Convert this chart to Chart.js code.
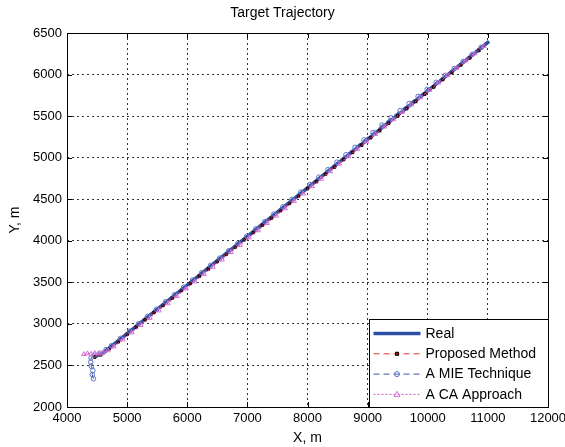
<!DOCTYPE html>
<html>
<head>
<meta charset="utf-8">
<script src="https://cdn.jsdelivr.net/npm/chart.js@4.4.0/dist/chart.umd.min.js"></script>
<style>
  body { margin: 0; background: #fff; }
  #wrap { width: 565px; height: 447px; }
</style>
</head>
<body>
<div id="wrap"><canvas id="myChart" width="565" height="447"></canvas></div>
<script>
// Data (metres)
const seriesNames = ['Real', 'Proposed Method', 'A MIE Technique', 'A CA Approach'];

const realX = [4430, 4500, 4600, 5000, 5500, 6000, 6500, 7000, 7500, 8000, 8500, 9000, 9500, 10000, 10500, 11020];
const realY = [2605, 2615, 2650, 2884, 3176, 3468, 3760, 4052, 4344, 4636, 4928, 5220, 5512, 5804, 6096, 6400];

const proposedX = [4460, 4560, 4700, 4850, 5000, 5150, 5300, 5450, 5600, 5750, 5900, 6050, 6200, 6350, 6500, 6650,
  6800, 6950, 7100, 7250, 7400, 7550, 7700, 7850, 8000, 8150, 8300, 8450, 8600, 8750, 8900, 9050, 9200, 9350, 9500,
  9650, 9800, 9950, 10100, 10250, 10400, 10550, 10700, 10850];
const proposedY = [2600, 2628, 2700, 2784, 2876, 2962, 3050, 3139, 3222, 3312, 3401, 3486, 3575, 3661, 3751, 3838,
  3924, 4013, 4099, 4189, 4274, 4364, 4450, 4537, 4628, 4712, 4802, 4887, 4977, 5063, 5150, 5240, 5325, 5414, 5501,
  5590, 5676, 5765, 5851, 5941, 6026, 6116, 6201, 6290];

const mieX = [4440, 4420, 4430, 4405, 4395, 4400, 4450, 4560, 4650, 4740, 4890, 5040, 5190, 5340, 5490, 5640, 5790,
  5940, 6090, 6240, 6390, 6540, 6690, 6840, 6990, 7140, 7290, 7440, 7590, 7740, 7890, 8040, 8190, 8340, 8490, 8640,
  8790, 8940, 9090, 9240, 9390, 9540, 9690, 9840, 9990, 10140, 10290, 10440, 10590, 10740, 10890];
const mieY = [2340, 2390, 2440, 2490, 2540, 2590, 2625, 2648, 2690, 2738, 2826, 2912, 3001, 3090, 3176, 3265, 3352,
  3441, 3528, 3615, 3704, 3791, 3880, 3967, 4055, 4143, 4231, 4320, 4408, 4497, 4586, 4676, 4765, 4855, 4945, 5035,
  5124, 5214, 5302, 5392, 5480, 5566, 5652, 5737, 5822, 5906, 5990, 6073, 6157, 6243, 6328];

const caX = [4280, 4340, 4400, 4460, 4520, 4600, 4680, 4780, 4930, 5080, 5230, 5380, 5530, 5680, 5830, 5980, 6130,
  6280, 6430, 6580, 6730, 6880, 7030, 7180, 7330, 7480, 7630, 7780, 7930, 8080, 8230, 8380, 8530, 8680, 8830, 8980,
  9130, 9280, 9430, 9580, 9730, 9880, 10030, 10180, 10330, 10480, 10630, 10780, 10930];
const caY = [2635, 2645, 2638, 2650, 2644, 2652, 2680, 2725, 2810, 2896, 2984, 3070, 3160, 3246, 3333, 3423, 3509,
  3598, 3685, 3772, 3862, 3948, 4037, 4124, 4212, 4300, 4388, 4477, 4566, 4655, 4744, 4835, 4924, 5015, 5104, 5193,
  5283, 5372, 5461, 5550, 5637, 5726, 5813, 5902, 5990, 6078, 6166, 6253, 6341];

const xTicks = [4000, 5000, 6000, 7000, 8000, 9000, 10000, 11000, 12000];
const yTicks = [2000, 2500, 3000, 3500, 4000, 4500, 5000, 5500, 6000, 6500];

const toPoints = (xs, ys) => xs.map((x, i) => ({x: x, y: ys[i]}));
const FONT = "'Liberation Sans', Arial, sans-serif";

// draws the axes box, inward ticks and the legend (MATLAB style)
const matlabAxes = {
    id: 'matlabAxes',
    afterDraw(chart) {
        const ctx = chart.ctx;
        const a = chart.chartArea;
        const xs = chart.scales.x, ys = chart.scales.y;
        ctx.save();
        ctx.strokeStyle = '#000';
        ctx.lineWidth = 1;
        ctx.setLineDash([]);
        // ticks
        ctx.beginPath();
        xTicks.forEach(v => {
            const px = Math.round(xs.getPixelForValue(v)) + 0.5;
            ctx.moveTo(px, a.bottom); ctx.lineTo(px, a.bottom - 5);
            ctx.moveTo(px, a.top); ctx.lineTo(px, a.top + 5);
        });
        yTicks.forEach(v => {
            const py = Math.round(ys.getPixelForValue(v)) + 0.5;
            ctx.moveTo(a.left, py); ctx.lineTo(a.left + 5, py);
            ctx.moveTo(a.right, py); ctx.lineTo(a.right - 5, py);
        });
        ctx.stroke();
        ctx.strokeRect(Math.round(a.left) + 0.5, Math.round(a.top) + 0.5,
            Math.round(a.right - a.left), Math.round(a.bottom - a.top));

        // legend
        const lw = 179, lh = 88;
        const lx = Math.round(a.right) - lw + 0.5, ly = Math.round(a.bottom) - lh + 0.5;
        ctx.fillStyle = '#fff';
        ctx.fillRect(lx, ly, lw, lh);
        ctx.strokeRect(lx, ly, lw, lh);
        ctx.font = '14px ' + FONT;
        ctx.textBaseline = 'middle';
        chart.data.datasets.forEach((ds, i) => {
            const y = ly + 14 + i * 20.3;
            const x0 = lx + 4, x1 = lx + 51;
            ctx.save();
            ctx.strokeStyle = ds.borderColor;
            ctx.lineWidth = ds.borderWidth;
            ctx.setLineDash(ds.borderDash || []);
            ctx.beginPath();
            ctx.moveTo(x0, y); ctx.lineTo(x1, y);
            ctx.stroke();
            ctx.setLineDash([]);
            const cx = (x0 + x1) / 2;
            if (ds.pointStyle === 'rect') {
                ctx.fillStyle = ds.pointBackgroundColor;
                ctx.strokeStyle = ds.pointBorderColor;
                ctx.lineWidth = 1;
                ctx.fillRect(cx - 1.5, y - 1.5, 3, 3);
                ctx.strokeRect(cx - 1.5, y - 1.5, 3, 3);
            } else if (ds.pointStyle === 'circle') {
                ctx.strokeStyle = ds.pointBorderColor;
                ctx.lineWidth = 1;
                ctx.beginPath();
                ctx.arc(cx, y, 2.5, 0, Math.PI * 2);
                ctx.stroke();
            } else if (ds.pointStyle === 'triangle') {
                ctx.strokeStyle = ds.pointBorderColor;
                ctx.lineWidth = 1;
                ctx.beginPath();
                ctx.moveTo(cx, y - 3); ctx.lineTo(cx + 3, y + 2); ctx.lineTo(cx - 3, y + 2);
                ctx.closePath();
                ctx.stroke();
            }
            ctx.restore();
            ctx.fillStyle = '#000';
            ctx.fillText(seriesNames[i], lx + 56, y + 0.5);
        });
        ctx.restore();
    }
};

const ctx = document.getElementById('myChart').getContext('2d');
const myChart = new Chart(ctx, {
    type: 'scatter',
    data: {
        datasets: [{
            label: seriesNames[0],
            data: toPoints(realX, realY),
            showLine: true,
            borderColor: '#2c4fa6',
            borderWidth: 3.5,
            pointRadius: 0,
            order: 4
        }, {
            label: seriesNames[1],
            data: toPoints(proposedX, proposedY),
            showLine: true,
            borderColor: '#e23a3a',
            borderWidth: 1,
            borderDash: [6, 4],
            pointStyle: 'rect',
            pointRadius: 1.8,
            pointBackgroundColor: '#a01010',
            pointBorderColor: '#1a0000',
            pointBorderWidth: 1,
            order: 3
        }, {
            label: seriesNames[2],
            data: toPoints(mieX, mieY),
            showLine: true,
            borderColor: '#3a56a8',
            borderWidth: 1,
            borderDash: [6, 4],
            pointStyle: 'circle',
            pointRadius: 2.3,
            pointBackgroundColor: 'rgba(0,0,0,0)',
            pointBorderColor: '#5c74c4',
            pointBorderWidth: 1,
            order: 2
        }, {
            label: seriesNames[3],
            data: toPoints(caX, caY),
            showLine: true,
            borderColor: '#d452c8',
            borderWidth: 1,
            borderDash: [2, 2],
            pointStyle: 'triangle',
            pointRadius: 2.6,
            pointBackgroundColor: 'rgba(0,0,0,0)',
            pointBorderColor: '#d870d4',
            pointBorderWidth: 1,
            order: 1
        }]
    },
    options: {
        responsive: false,
        animation: false,
        devicePixelRatio: 1,
        layout: { padding: 0 },
        plugins: {
            legend: { display: false },
            tooltip: { enabled: false },
            title: {
                display: true,
                text: 'Target Trajectory',
                color: '#000',
                font: { family: FONT, size: 14, weight: 'normal' },
                padding: { top: 5, bottom: 11.2 }
            }
        },
        scales: {
            x: {
                type: 'linear',
                min: 4000,
                max: 12000,
                afterBuildTicks: s => { s.ticks = xTicks.map(v => ({value: v})); },
                afterFit: s => { s.height = 40; s.paddingRight = 17; },
                ticks: {
                    color: '#000',
                    padding: 4,
                    maxRotation: 0,
                    font: { family: FONT, size: 13 },
                    callback: v => String(v)
                },
                grid: { color: '#333', lineWidth: 1, drawTicks: false },
                border: { display: false, dash: [2, 3] },
                title: {
                    display: true,
                    text: 'X, m',
                    color: '#000',
                    font: { family: FONT, size: 14 },
                    padding: { top: 0, bottom: 0 }
                }
            },
            y: {
                type: 'linear',
                min: 2000,
                max: 6500,
                afterBuildTicks: s => { s.ticks = yTicks.map(v => ({value: v})); },
                afterFit: s => { s.width = 67; },
                ticks: {
                    color: '#000',
                    padding: 5,
                    font: { family: FONT, size: 13 },
                    callback: v => String(v)
                },
                grid: { color: '#333', lineWidth: 1, drawTicks: false },
                border: { display: false, dash: [2, 3] },
                title: {
                    display: true,
                    text: 'Y, m',
                    color: '#000',
                    font: { family: FONT, size: 14 },
                    padding: { top: 7, bottom: 0 }
                }
            }
        }
    },
    plugins: [matlabAxes]
});
</script>
</body>
</html>
